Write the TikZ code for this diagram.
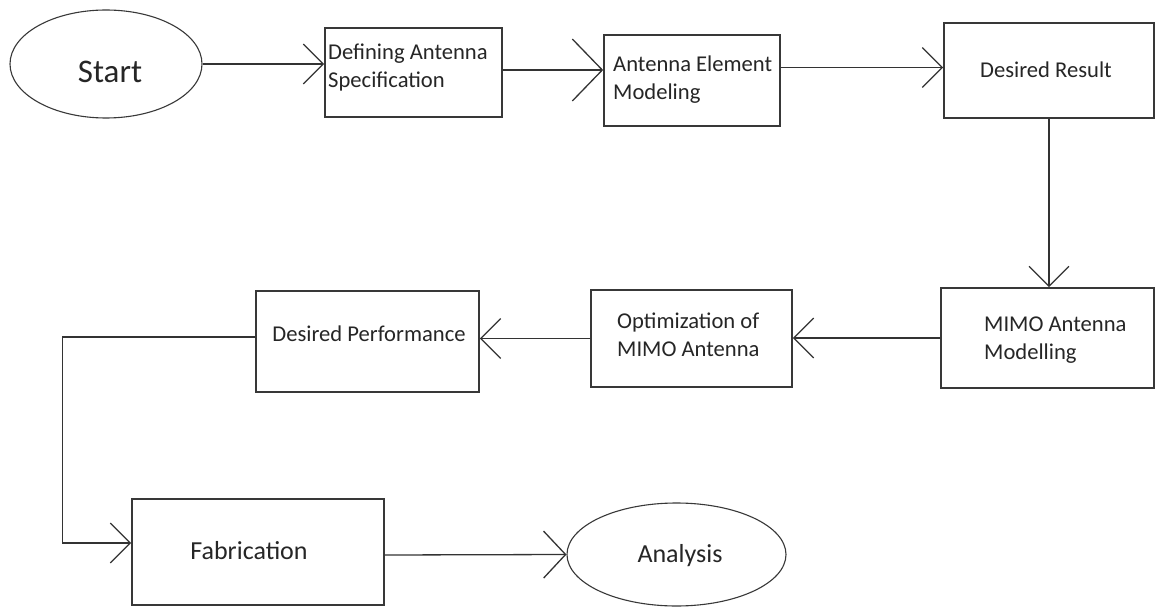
\documentclass[tikz,border=0pt]{standalone}
\usepackage{fontspec}
\setmainfont{Carlito}
\usetikzlibrary{arrows.meta,shapes.geometric}
\begin{document}
\begin{tikzpicture}[x=1pt,y=-1pt,
  box/.style={draw=black!78, line width=1.6pt, rectangle, inner sep=0pt},
  oval/.style={draw=black!78, line width=1.1pt, ellipse, inner sep=0pt},
  lbl/.style={inner sep=0pt, text=black!85, font=\fontsize{22.6}{28}\selectfont, align=left},
  big/.style={inner sep=0pt, text=black!85, font=\fontsize{26}{31}\selectfont},
  conn/.style={draw=black!80, line width=1.3pt, -{Straight Barb[length=20pt,width=40pt]}},
  bigtip/.style={-{Straight Barb[length=30pt,width=62pt]}},
  anatip/.style={-{Straight Barb[length=22pt,width=47pt]}},
]
\fill[white] (0,0) rectangle (1157,607);
\useasboundingbox (0,0) rectangle (1157,607);

% shapes
\node[oval, minimum width=192, minimum height=108] (start) at (106,64) {};
\node[box, minimum width=177, minimum height=89]  (def)   at (413.5,72.5) {};
\node[box, minimum width=176, minimum height=91]  (ant)   at (692,80.5) {};
\node[box, minimum width=210, minimum height=95]  (res)   at (1049,70.5) {};
\node[box, minimum width=213, minimum height=100] (mimo)  at (1047.5,338) {};
\node[box, minimum width=201, minimum height=97]  (opt)   at (691.5,338.5) {};
\node[box, minimum width=223, minimum height=101] (perf)  at (367.5,341.5) {};
\node[box, minimum width=252, minimum height=106] (fab)   at (258,552) {};
\node[oval, minimum width=219, minimum height=103] (ana)  at (676.5,554.5) {};

% texts
\node[inner sep=0pt, text=black!85, font=\fontsize{33}{40}\selectfont] (startT) at (110,72) {Start};
\node[lbl, anchor=west] (defT)  at (328,67.6)  {Defining Antenna\\Specification};
\node[lbl, anchor=west] (antT)  at (613,79.6)  {Antenna Element\\Modeling};
\node[lbl] (resT) at (1046,70) {Desired Result};
\node[lbl, anchor=west] (mimoT) at (984,340)   {MIMO Antenna\\Modelling};
\node[lbl, anchor=west] (optT)  at (617,334.6) {Optimization of\\MIMO Antenna};
\node[lbl] (perfT) at (369,334) {Desired Performance};
\node[big] (fabT) at (249,551) {Fabrication};
\node[big] (anaT) at (680,556) {Analysis};

% connectors
\draw[conn] (start.east) -- (start.east -| def.west);
\draw[conn, bigtip] ([yshift=2.5pt]def.east) -- ([yshift=2.5pt]def.east -| ant.west);
\draw[conn] ([yshift=13pt]ant.east) -- ([yshift=13pt]ant.east -| res.west);
\draw[conn] (res.south) -- (res.south |- mimo.north);
\draw[conn] (mimo.west) -- (mimo.west -| opt.east);
\draw[conn] (opt.west) -- (opt.west -| perf.east);
\draw[conn] ([yshift=4.5pt]perf.west) -- ++(-193,0) |- ([yshift=9pt]fab.west);
\draw[conn, anatip] ([yshift=-3pt]fab.east) -- (ana.west);
\end{tikzpicture}
\end{document}
